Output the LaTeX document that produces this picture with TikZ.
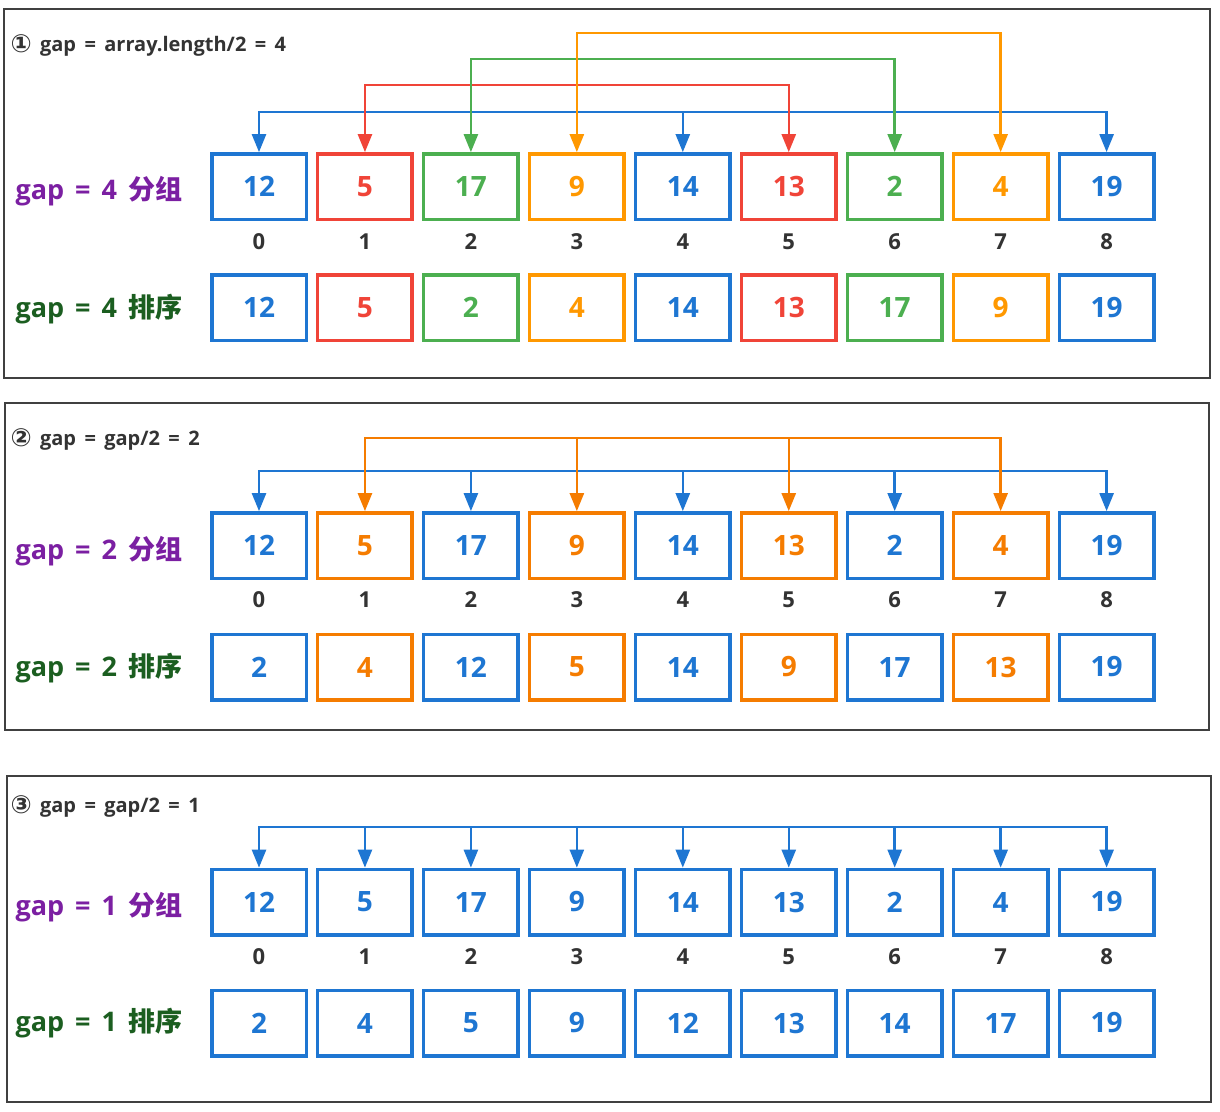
\documentclass[tikz,border=0pt]{standalone}
\usepackage{fontspec}
\setmainfont{Open Sans}
\newfontfamily\cjk{Noto Sans CJK SC}
\newfontfamily\symf{DejaVu Sans}
\usetikzlibrary{arrows.meta}
\definecolor{bl}{RGB}{30,118,210}
\definecolor{rd}{RGB}{240,68,56}
\definecolor{gn}{RGB}{76,175,80}
\definecolor{oa}{RGB}{255,152,0}
\definecolor{ob}{RGB}{245,124,0}
\definecolor{pu}{RGB}{123,31,162}
\definecolor{dg}{RGB}{27,94,32}
\definecolor{tg}{RGB}{51,51,51}
\definecolor{fr}{RGB}{64,64,64}
\newcommand\gsp{\hspace{0.42em}}
\newcommand\csym[1]{{\symf\fontsize{25}{25}\selectfont\raisebox{-1.5pt}{#1}}}
\newcommand\cellrow[3]{%
  \foreach \v/\c [count=\i from 0] in {#3}
    \node[cell, draw=\c, text=\c] (#1\i) at (259+105.95*\i, #2) {\raisebox{-2pt}{\v}};}
\newcommand\idxrow[2]{%
  \foreach \i in {0,...,8}
    \node[idx] (#1n\i) at (#1\i.center |- 0,#2) {\i};}
\begin{document}
\begin{tikzpicture}[x=1pt,y=-1pt,
  cell/.style={line width=3.5pt, minimum width=94.5pt, minimum height=65.5pt,
    inner sep=0pt, outer sep=0pt, fill=white,
    font=\fontsize{28}{28}\selectfont\bfseries},
  idx/.style={font=\fontsize{22}{22}\selectfont\bfseries, text=tg},
  conn/.style={line width=2.5pt, line cap=rect},
  arr/.style={line width=2.5pt, -{Triangle[length=18pt,width=14pt]}, shorten >=1.6pt},
  frame/.style={draw=fr, line width=2.5pt},
  ttl/.style={anchor=west, text=tg, font=\fontsize{20}{20}\selectfont\bfseries},
  grp/.style={anchor=west, text=pu, font=\fontsize{27}{27}\selectfont\bfseries},
  srt/.style={anchor=west, text=dg, font=\fontsize{27}{27}\selectfont\bfseries}]
\useasboundingbox (0,0) rectangle (1220,1111);
\fill[white] (0,0) rectangle (1220,1111);
% panels
\draw[frame] (4,9) rectangle (1210,378);
\draw[frame] (5,403) rectangle (1209,730);
\draw[frame] (7,776) rectangle (1211,1102);
% titles
\node[ttl] (t1) at (7,45.5) {\csym{①}\gsp gap\gsp=\gsp array.length/2\gsp=\gsp4};
\node[ttl] (t2) at (7,439.5) {\csym{②}\gsp gap\gsp=\gsp gap/2\gsp=\gsp2};
\node[ttl] (t3) at (7,806.5) {\csym{③}\gsp gap\gsp=\gsp gap/2\gsp=\gsp1};
% labels
\node[grp] (l1) at (12,191) {gap\hspace{11pt}=\hspace{11pt}4\hspace{11pt}{\cjk 分组}};
\node[srt] (l2) at (12,309) {gap\hspace{11pt}=\hspace{11pt}4\hspace{11pt}{\cjk 排序}};
\node[grp] (l3) at (12,551) {gap\hspace{11pt}=\hspace{11pt}2\hspace{11pt}{\cjk 分组}};
\node[srt] (l4) at (12,668) {gap\hspace{11pt}=\hspace{11pt}2\hspace{11pt}{\cjk 排序}};
\node[grp] (l5) at (12,907) {gap\hspace{11pt}=\hspace{11pt}1\hspace{11pt}{\cjk 分组}};
\node[srt] (l6) at (12,1023) {gap\hspace{11pt}=\hspace{11pt}1\hspace{11pt}{\cjk 排序}};
% panel 1
\cellrow{a}{186.5}{12/bl,5/rd,17/gn,9/oa,14/bl,13/rd,2/gn,4/oa,19/bl}
\idxrow{a}{242}
\cellrow{b}{307.5}{12/bl,5/rd,2/gn,4/oa,14/bl,13/rd,17/gn,9/oa,19/bl}
% panel 2
\cellrow{c}{545.5}{12/bl,5/ob,17/bl,9/ob,14/bl,13/ob,2/bl,4/ob,19/bl}
\idxrow{c}{600}
\cellrow{d}{667}{2/bl,4/ob,12/bl,5/ob,14/bl,9/ob,17/bl,13/ob,19/bl}
% panel 3
\cellrow{e}{902}{12/bl,5/bl,17/bl,9/bl,14/bl,13/bl,2/bl,4/bl,19/bl}
\idxrow{e}{957}
\cellrow{f}{1023}{2/bl,4/bl,5/bl,9/bl,12/bl,13/bl,14/bl,17/bl,19/bl}
% connectors panel 1
\draw[conn, bl] (a0.north |- 0,112) -- (a8.north |- 0,112);
\foreach \i in {0,4,8} \draw[arr, bl] (a\i.north |- 0,112) -- (a\i.north);
\draw[conn, rd] (a1.north |- 0,85) -- (a5.north |- 0,85);
\foreach \i in {1,5} \draw[arr, rd] (a\i.north |- 0,85) -- (a\i.north);
\draw[conn, gn] (a2.north |- 0,59) -- (a6.north |- 0,59);
\foreach \i in {2,6} \draw[arr, gn] (a\i.north |- 0,59) -- (a\i.north);
\draw[conn, oa] (a3.north |- 0,33) -- (a7.north |- 0,33);
\foreach \i in {3,7} \draw[arr, oa] (a\i.north |- 0,33) -- (a\i.north);
% connectors panel 2
\draw[conn, bl] (c0.north |- 0,471) -- (c8.north |- 0,471);
\foreach \i in {0,2,4,6,8} \draw[arr, bl] (c\i.north |- 0,471) -- (c\i.north);
\draw[conn, ob] (c1.north |- 0,438) -- (c7.north |- 0,438);
\foreach \i in {1,3,5,7} \draw[arr, ob] (c\i.north |- 0,438) -- (c\i.north);
% connectors panel 3
\draw[conn, bl] (e0.north |- 0,827) -- (e8.north |- 0,827);
\foreach \i in {0,...,8} \draw[arr, bl] (e\i.north |- 0,827) -- (e\i.north);
\end{tikzpicture}
\end{document}
